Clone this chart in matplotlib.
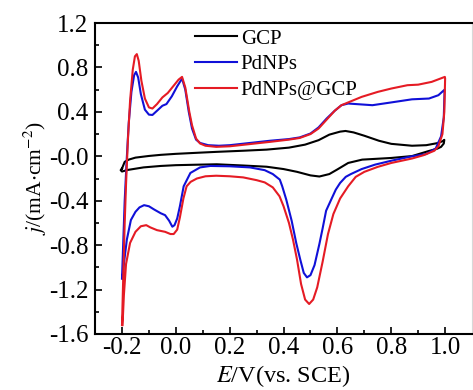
import numpy as np
import matplotlib
matplotlib.use('Agg')
import matplotlib.pyplot as plt

plt.rcParams['font.family'] = ['Liberation Serif', 'DejaVu Serif']
plt.rcParams['mathtext.fontset'] = 'stix'
plt.rcParams['axes.unicode_minus'] = False

# GCP loop (forward then reverse scan)
gcp_E = [-0.200, -0.190, -0.175, -0.150, -0.100, -0.056, 0.000, 0.091, 0.152, 0.250,
         0.337, 0.420, 0.480, 0.530, 0.570, 0.610, 0.630, 0.660, 0.700, 0.754,
         0.800, 0.877, 0.930, 0.970, 0.990, 0.997,
         0.995, 0.985, 0.970, 0.940, 0.877, 0.800, 0.692, 0.640, 0.600, 0.570,
         0.533, 0.500, 0.450, 0.400, 0.337, 0.250, 0.152, 0.091, 0.000, -0.056,
         -0.120, -0.179, -0.200, -0.205, -0.200]
gcp_j = [-0.110, -0.050, -0.030, -0.012, 0.003, 0.013, 0.022, 0.033, 0.040, 0.050,
         0.060, 0.078, 0.105, 0.145, 0.195, 0.222, 0.228, 0.215, 0.185, 0.140,
         0.112, 0.095, 0.100, 0.118, 0.135, 0.148,
         0.115, 0.085, 0.068, 0.048, 0.002, -0.015, -0.030, -0.060, -0.118, -0.160,
         -0.182, -0.172, -0.140, -0.115, -0.094, -0.083, -0.072, -0.075, -0.080, -0.087,
         -0.100, -0.123, -0.137, -0.125, -0.110]

# PdNPs loop
pd_E = [-0.200, -0.195, -0.190, -0.183, -0.175, -0.165, -0.155, -0.148, -0.140, -0.130,
        -0.115, -0.100, -0.087, -0.070, -0.050, -0.035, -0.015, 0.005, 0.023, 0.035,
        0.048, 0.060, 0.075, 0.090, 0.120, 0.160, 0.200, 0.275, 0.350, 0.420,
        0.460, 0.500, 0.530, 0.560, 0.590, 0.615, 0.640, 0.700, 0.730, 0.800,
        0.877, 0.940, 0.975, 0.998,
        0.995, 0.985, 0.965, 0.930, 0.877, 0.800, 0.740, 0.690, 0.650, 0.631,
        0.610, 0.594, 0.575, 0.558, 0.545, 0.533, 0.515, 0.500, 0.487, 0.475,
        0.462, 0.447, 0.430, 0.410, 0.395, 0.386, 0.360, 0.330, 0.275, 0.200,
        0.128, 0.090, 0.054, 0.029, 0.015, 0.005, -0.005, -0.013, -0.025, -0.040,
        -0.056, -0.080, -0.100, -0.118, -0.135, -0.150, -0.167, -0.182, -0.192, -0.198]
pd_j = [-1.100, -0.750, -0.400, -0.050, 0.300, 0.580, 0.730, 0.760, 0.710, 0.560,
        0.420, 0.375, 0.372, 0.410, 0.455, 0.470, 0.540, 0.630, 0.700, 0.600,
        0.400, 0.250, 0.150, 0.120, 0.100, 0.095, 0.100, 0.120, 0.140, 0.155,
        0.170, 0.205, 0.260, 0.340, 0.410, 0.460, 0.475, 0.465, 0.460, 0.485,
        0.513, 0.520, 0.550, 0.600,
        0.350, 0.180, 0.070, 0.020, 0.000, -0.040, -0.075, -0.115, -0.160, -0.185,
        -0.240, -0.300, -0.400, -0.490, -0.650, -0.790, -0.980, -1.070, -1.090, -1.050,
        -0.930, -0.780, -0.580, -0.390, -0.270, -0.210, -0.160, -0.125, -0.100, -0.090,
        -0.087, -0.100, -0.150, -0.270, -0.450, -0.560, -0.620, -0.634, -0.580, -0.530,
        -0.513, -0.480, -0.450, -0.440, -0.460, -0.500, -0.574, -0.750, -0.950, -1.100]

# PdNPs@GCP loop
pdg_E = [-0.200, -0.195, -0.190, -0.185, -0.178, -0.170, -0.160, -0.152, -0.145, -0.138,
         -0.128, -0.115, -0.100, -0.087, -0.070, -0.050, -0.030, -0.010, 0.010, 0.023,
         0.035, 0.050, 0.060, 0.075, 0.090, 0.110, 0.150, 0.200, 0.275, 0.350,
         0.420, 0.460, 0.500, 0.530, 0.560, 0.590, 0.615, 0.640, 0.690, 0.750,
         0.800, 0.860, 0.900, 0.950, 0.999,
         1.000, 0.997, 0.990, 0.975, 0.960, 0.920, 0.877, 0.800, 0.750, 0.700,
         0.668, 0.640, 0.610, 0.585, 0.565, 0.545, 0.525, 0.510, 0.495, 0.480,
         0.465, 0.450, 0.435, 0.420, 0.400, 0.385, 0.360, 0.330, 0.300, 0.250,
         0.200, 0.150, 0.110, 0.078, 0.055, 0.040, 0.028, 0.015, 0.005, -0.008,
         -0.020, -0.040, -0.070, -0.095, -0.110, -0.130, -0.150, -0.170, -0.185, -0.193,
         -0.198]
pdg_j = [-1.520, -1.050, -0.600, -0.250, 0.150, 0.500, 0.780, 0.900, 0.920, 0.860,
         0.680, 0.520, 0.440, 0.430, 0.470, 0.530, 0.570, 0.630, 0.690, 0.715,
         0.620, 0.400, 0.280, 0.160, 0.115, 0.095, 0.085, 0.090, 0.110, 0.130,
         0.150, 0.165, 0.200, 0.250, 0.330, 0.410, 0.460, 0.485, 0.535, 0.580,
         0.610, 0.640, 0.645, 0.670, 0.715,
         0.700, 0.400, 0.200, 0.090, 0.050, 0.010, -0.020, -0.060, -0.095, -0.140,
         -0.185, -0.270, -0.380, -0.520, -0.700, -0.950, -1.180, -1.290, -1.330, -1.290,
         -1.150, -0.930, -0.750, -0.600, -0.450, -0.360, -0.280, -0.235, -0.215, -0.190,
         -0.180, -0.175, -0.180, -0.200, -0.230, -0.270, -0.380, -0.550, -0.660, -0.700,
         -0.700, -0.680, -0.665, -0.640, -0.620, -0.630, -0.680, -0.780, -0.970, -1.250,
         -1.520]

fig = plt.figure(figsize=(4.73, 3.90), dpi=100)
ax = fig.add_axes([0.201, 0.1436, 0.797, 0.7974])

ax.plot(gcp_E, gcp_j, color='black', lw=1.5, label='GCP')
ax.plot(pd_E, pd_j, color='#1010d8', lw=1.5, label='PdNPs')
ax.plot(pdg_E, pdg_j, color='#e51b24', lw=1.5, label='PdNPs@GCP')

ax.set_xlim(-0.3, 1.1)
ax.set_ylim(-1.6, 1.2)
ax.set_xticks(np.arange(-0.2, 1.01, 0.2))
ax.set_xticks(np.arange(-0.1, 1.01, 0.2), minor=True)
ax.set_yticks(np.arange(-1.6, 1.21, 0.4))
ax.set_yticks(np.arange(-1.4, 1.21, 0.4), minor=True)
ax.xaxis.set_major_formatter(plt.FormatStrFormatter('%.1f'))
ax.yaxis.set_major_formatter(plt.FormatStrFormatter('%.1f'))
ax.tick_params(which='both', direction='in', labelsize=18, width=1.2,
               top=False, right=False)
ax.tick_params(which='major', length=5)
ax.tick_params(axis='y', pad=5)
ax.tick_params(axis='x', pad=2)
ax.tick_params(which='minor', length=3)

for s in ['left', 'bottom', 'top']:
    ax.spines[s].set_linewidth(1.5)
ax.spines['right'].set_color('#d8d8d8')
ax.spines['right'].set_linewidth(0.8)

ax.set_xlabel(r'$E$/V(vs. SCE)', fontsize=17.5, labelpad=3)
ax.set_ylabel(r'$j$/(mA$\cdot$cm$^{-2}$)', fontsize=15.5, labelpad=0)

ax.legend(loc='upper left', bbox_to_anchor=(195 / 473, 1 - 29 / 390),
          bbox_transform=fig.transFigure, frameon=False, fontsize=15,
          handlelength=2.0, handletextpad=0.2, labelspacing=0.3,
          borderpad=0, borderaxespad=0)

plt.savefig('out.png', dpi=100)
